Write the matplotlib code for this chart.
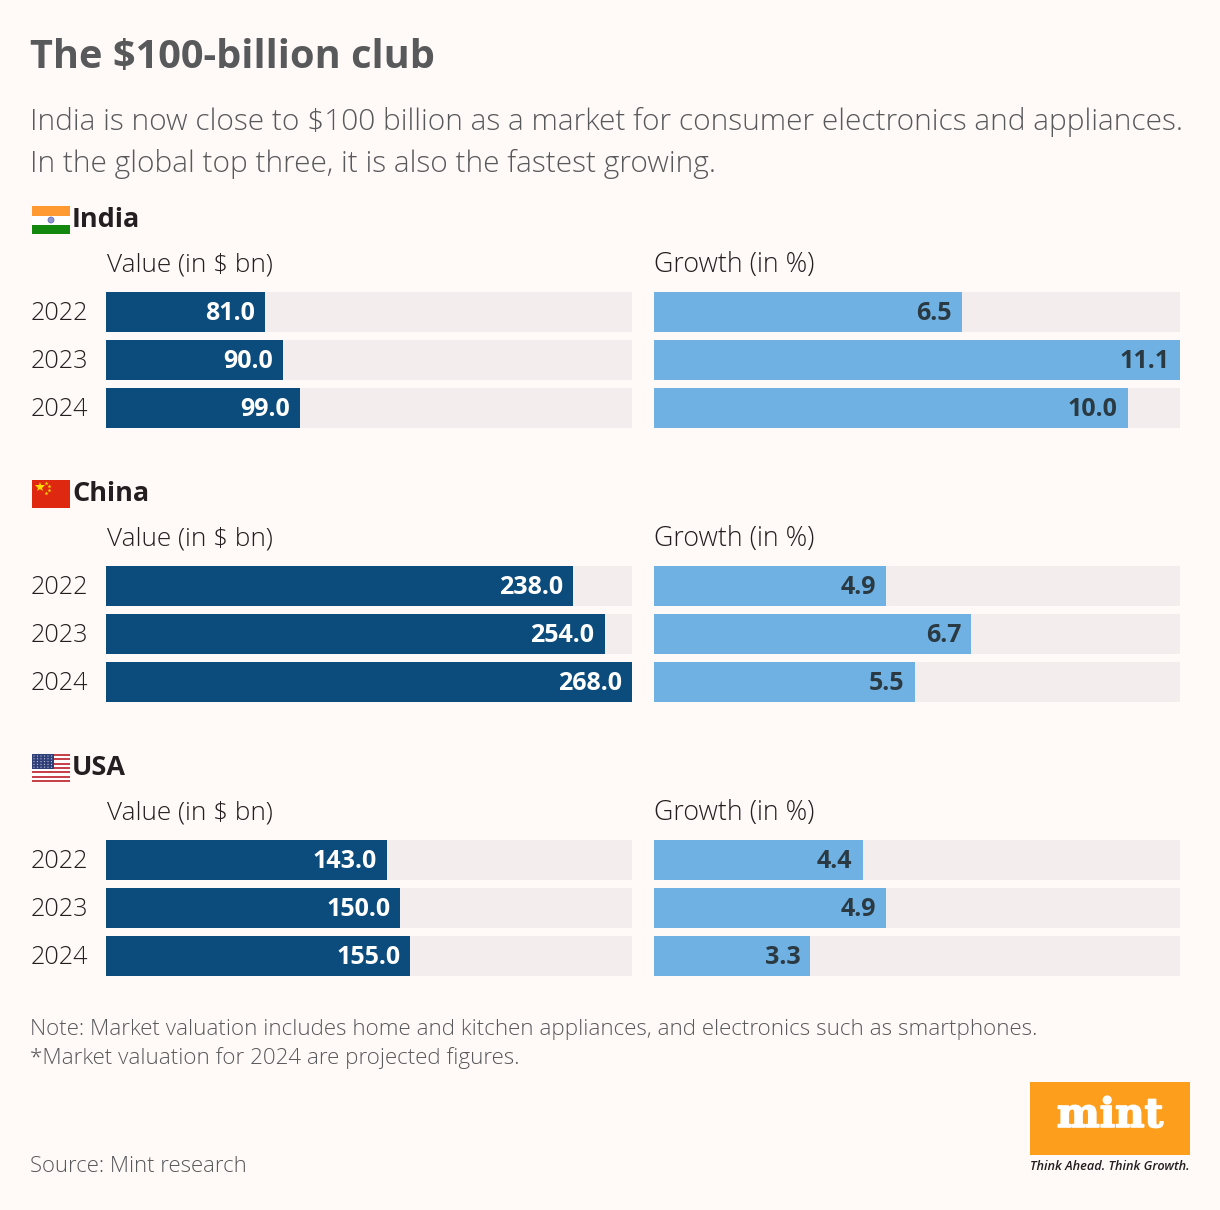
import matplotlib
matplotlib.use('Agg')
import matplotlib.pyplot as plt
import matplotlib.patheffects as pe
from matplotlib.patches import Rectangle, Circle

plt.rcParams['font.family'] = ['Open Sans', 'DejaVu Sans']

years = ['2022', '2023', '2024']
countries = ['India', 'China', 'USA']
india_value = [81.0, 90.0, 99.0]
india_growth = [6.5, 11.1, 10.0]
china_value = [238.0, 254.0, 268.0]
china_growth = [4.9, 6.7, 5.5]
usa_value = [143.0, 150.0, 155.0]
usa_growth = [4.4, 4.9, 3.3]

value_max = 268.0
growth_max = 11.1

BG = '#fff9f8'
TRACK = '#f3eeed'
NAVY = '#0b4c7d'
SKY = '#6fb1e2'
DARK = '#231f20'
GREY = '#58595b'

W, H = 1220, 1210
fig = plt.figure(figsize=(W / 100, H / 100), dpi=100, facecolor=BG)

# overlay in pixel coordinates for the text and the flags
page = fig.add_axes([0, 0, 1, 1])
page.set_xlim(0, W)
page.set_ylim(H, 0)
page.axis('off')


def px(size):
    return size * 0.72


def bar_panel(left, top, values, vmax, colour, text_colour):
    ax = fig.add_axes([left / W, 1 - (top + 136) / H, 526 / W, 136 / H])
    ax.set_facecolor('none')
    pos = [0, 1, 2]
    ax.barh(pos, [vmax] * 3, height=40 / 48, color=TRACK, linewidth=0)
    ax.barh(pos, values, height=40 / 48, color=colour, linewidth=0)
    ax.set_xlim(0, vmax)
    ax.set_ylim(2 + 20 / 48, -20 / 48)
    ax.axis('off')
    for p, v in zip(pos, values):
        ax.annotate(f'{v:.1f}', (v, p), xytext=(-7.2, -1), textcoords='offset points',
                    ha='right', va='center', color=text_colour,
                    fontsize=px(25), fontweight='bold')


def flag_india(y):
    page.add_patch(Rectangle((32, y), 38, 9.5, color='#ff9a33', lw=0))
    page.add_patch(Rectangle((32, y + 9.5), 38, 9, color='white', lw=0))
    page.add_patch(Rectangle((32, y + 18.5), 38, 9.5, color='#13880e', lw=0))
    page.add_patch(Circle((51, y + 14), 3, fc='#8f95d0', ec='#5a66b0', lw=0.5))


def flag_china(y):
    page.add_patch(Rectangle((32, y), 38, 28, color='#de2910', lw=0))
    page.plot([39.5], [y + 7], marker='*', ms=7, color='#ffde00', mew=0)
    for dx, dy in [(46, 3), (49, 6), (49, 10), (46, 13)]:
        page.plot([dx], [y + dy], marker='*', ms=3, color='#ffde00', mew=0)


def flag_usa(y):
    page.add_patch(Rectangle((32, y), 38, 28, color='white', lw=0))
    for i in range(0, 13, 2):
        page.add_patch(Rectangle((32, y + i * 28 / 13), 38, 28 / 13, color='#c8424c', lw=0))
    page.add_patch(Rectangle((32, y), 21.5, 15, color='#2f3f78', lw=0))
    for row in range(5):
        for col in range(6):
            page.add_patch(Circle((34 + col * 3.5, y + 2 + row * 2.8), 0.6, color='#c5cbe0', lw=0))


flags = [flag_india, flag_china, flag_usa]
value_rows = [india_value, china_value, usa_value]
growth_rows = [india_growth, china_growth, usa_growth]

page.text(30, 57, 'The $100-billion club', fontsize=px(39.8), fontweight='bold',
          color=GREY, va='center', ha='left')
page.text(30, 122, 'India is now close to $100 billion as a market for consumer electronics and appliances.',
          fontsize=px(29.85), fontweight='light', color=GREY, va='center', ha='left')
page.text(30, 164, 'In the global top three, it is also the fastest growing.',
          fontsize=px(29.85), fontweight='light', color=GREY, va='center', ha='left')

for k, name in enumerate(countries):
    off = k * 274
    flags[k](206 + off)
    page.text(72, 220 + off, name, fontsize=px(27), fontweight='bold', color=DARK, va='center', ha='left')
    page.text(107, 265 + off, 'Value (in $ bn)', fontsize=px(26.1), fontweight='light', color=DARK, va='center', ha='left')
    page.text(654, 265 + off, 'Growth (in %)', fontsize=px(26.8), fontweight='light', color=DARK, va='center', ha='left')
    for j, yr in enumerate(years):
        page.text(31, 313 + off + j * 48, yr, fontsize=px(25.2), fontweight='light', color=DARK, va='center', ha='left')
    bar_panel(106, 292 + off, value_rows[k], value_max, NAVY, 'white')
    bar_panel(654, 292 + off, growth_rows[k], growth_max, SKY, '#2b3a42')

page.text(30, 1030, 'Note: Market valuation includes home and kitchen appliances, and electronics such as smartphones.',
          fontsize=px(22.4), fontweight='light', color=GREY, va='center', ha='left')
page.text(30, 1058, '*Market valuation for 2024 are projected figures.',
          fontsize=px(22.4), fontweight='light', color=GREY, va='center', ha='left')
page.text(30, 1166, 'Source: Mint research', fontsize=px(22.2), fontweight='light', color=GREY, va='center', ha='left')

# logo
page.add_patch(Rectangle((1030, 1082), 160, 73, color='#fd9f1d', lw=0))
logo = page.text(1110, 1116, 'mint', family='DejaVu Serif', fontsize=px(40.5), fontweight='bold',
                 color='white', va='center', ha='center')
logo.set_path_effects([pe.withStroke(linewidth=1.2, foreground='white')])
page.text(1110, 1166, 'Think Ahead. Think Growth.', fontsize=px(12.8), fontweight='semibold',
          fontstyle='italic', color=DARK, va='center', ha='center')

fig.savefig('out.png', dpi=100, facecolor=BG)
